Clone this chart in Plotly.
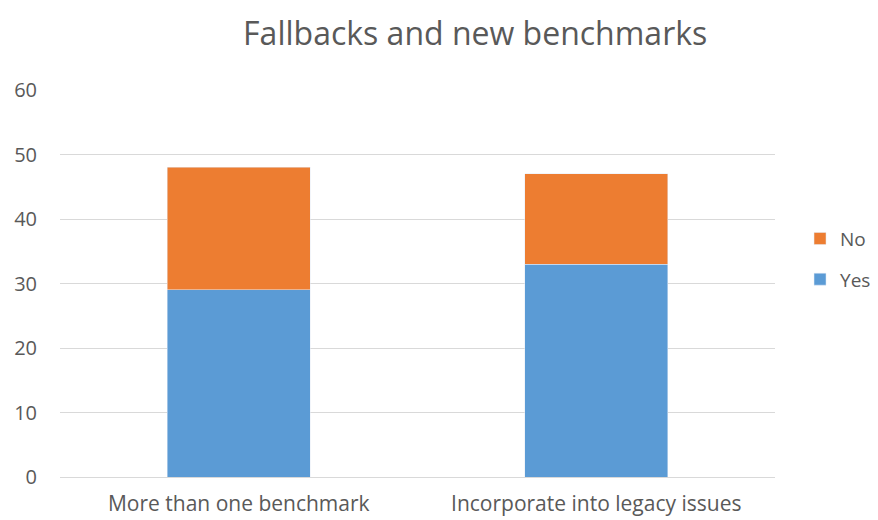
import plotly.graph_objects as go

# Survey responses per question
categories = ['More than one benchmark', 'Incorporate into legacy issues']
yes_values = [29, 33]
no_values = [19, 14]

fig = go.Figure()
fig.add_trace(go.Bar(x=categories, y=yes_values, name='Yes',
                     marker_color='#5B9BD5', legendgroup='yes', legendrank=2))
fig.add_trace(go.Bar(x=categories, y=no_values, name='No',
                     marker_color='#ED7D31', legendgroup='no', legendrank=1))

# page body has an 8px margin, so the figure is shrunk to fit the window
fig.update_layout(
    barmode='stack',
    bargap=0.6,
    width=870, height=512,
    margin=dict(l=52, r=103, t=82, b=43, autoexpand=False),
    paper_bgcolor='white', plot_bgcolor='white',
    font=dict(family='Open Sans', color='#595959', size=20),
    title=dict(text='Fallbacks and new benchmarks', x=0.537, xanchor='center',
               y=0.95, yanchor='middle',
               font=dict(size=32, color='#595959')),
    legend=dict(x=1.035, y=0.563, xanchor='left', yanchor='middle',
                traceorder='grouped', tracegroupgap=13,
                font=dict(size=19, color='#595959')),
)

fig.update_yaxes(range=[0, 60], dtick=10, showgrid=True, gridcolor='#D9D9D9',
                 gridwidth=1, zeroline=False, ticks='', ticklabelstandoff=22,
                 automargin=False)
fig.update_xaxes(showline=True, linecolor='#D9D9D9', linewidth=1, ticks='',
                 ticklabelstandoff=8, tickfont=dict(size=21), automargin=False)

fig.write_html('out.html')
